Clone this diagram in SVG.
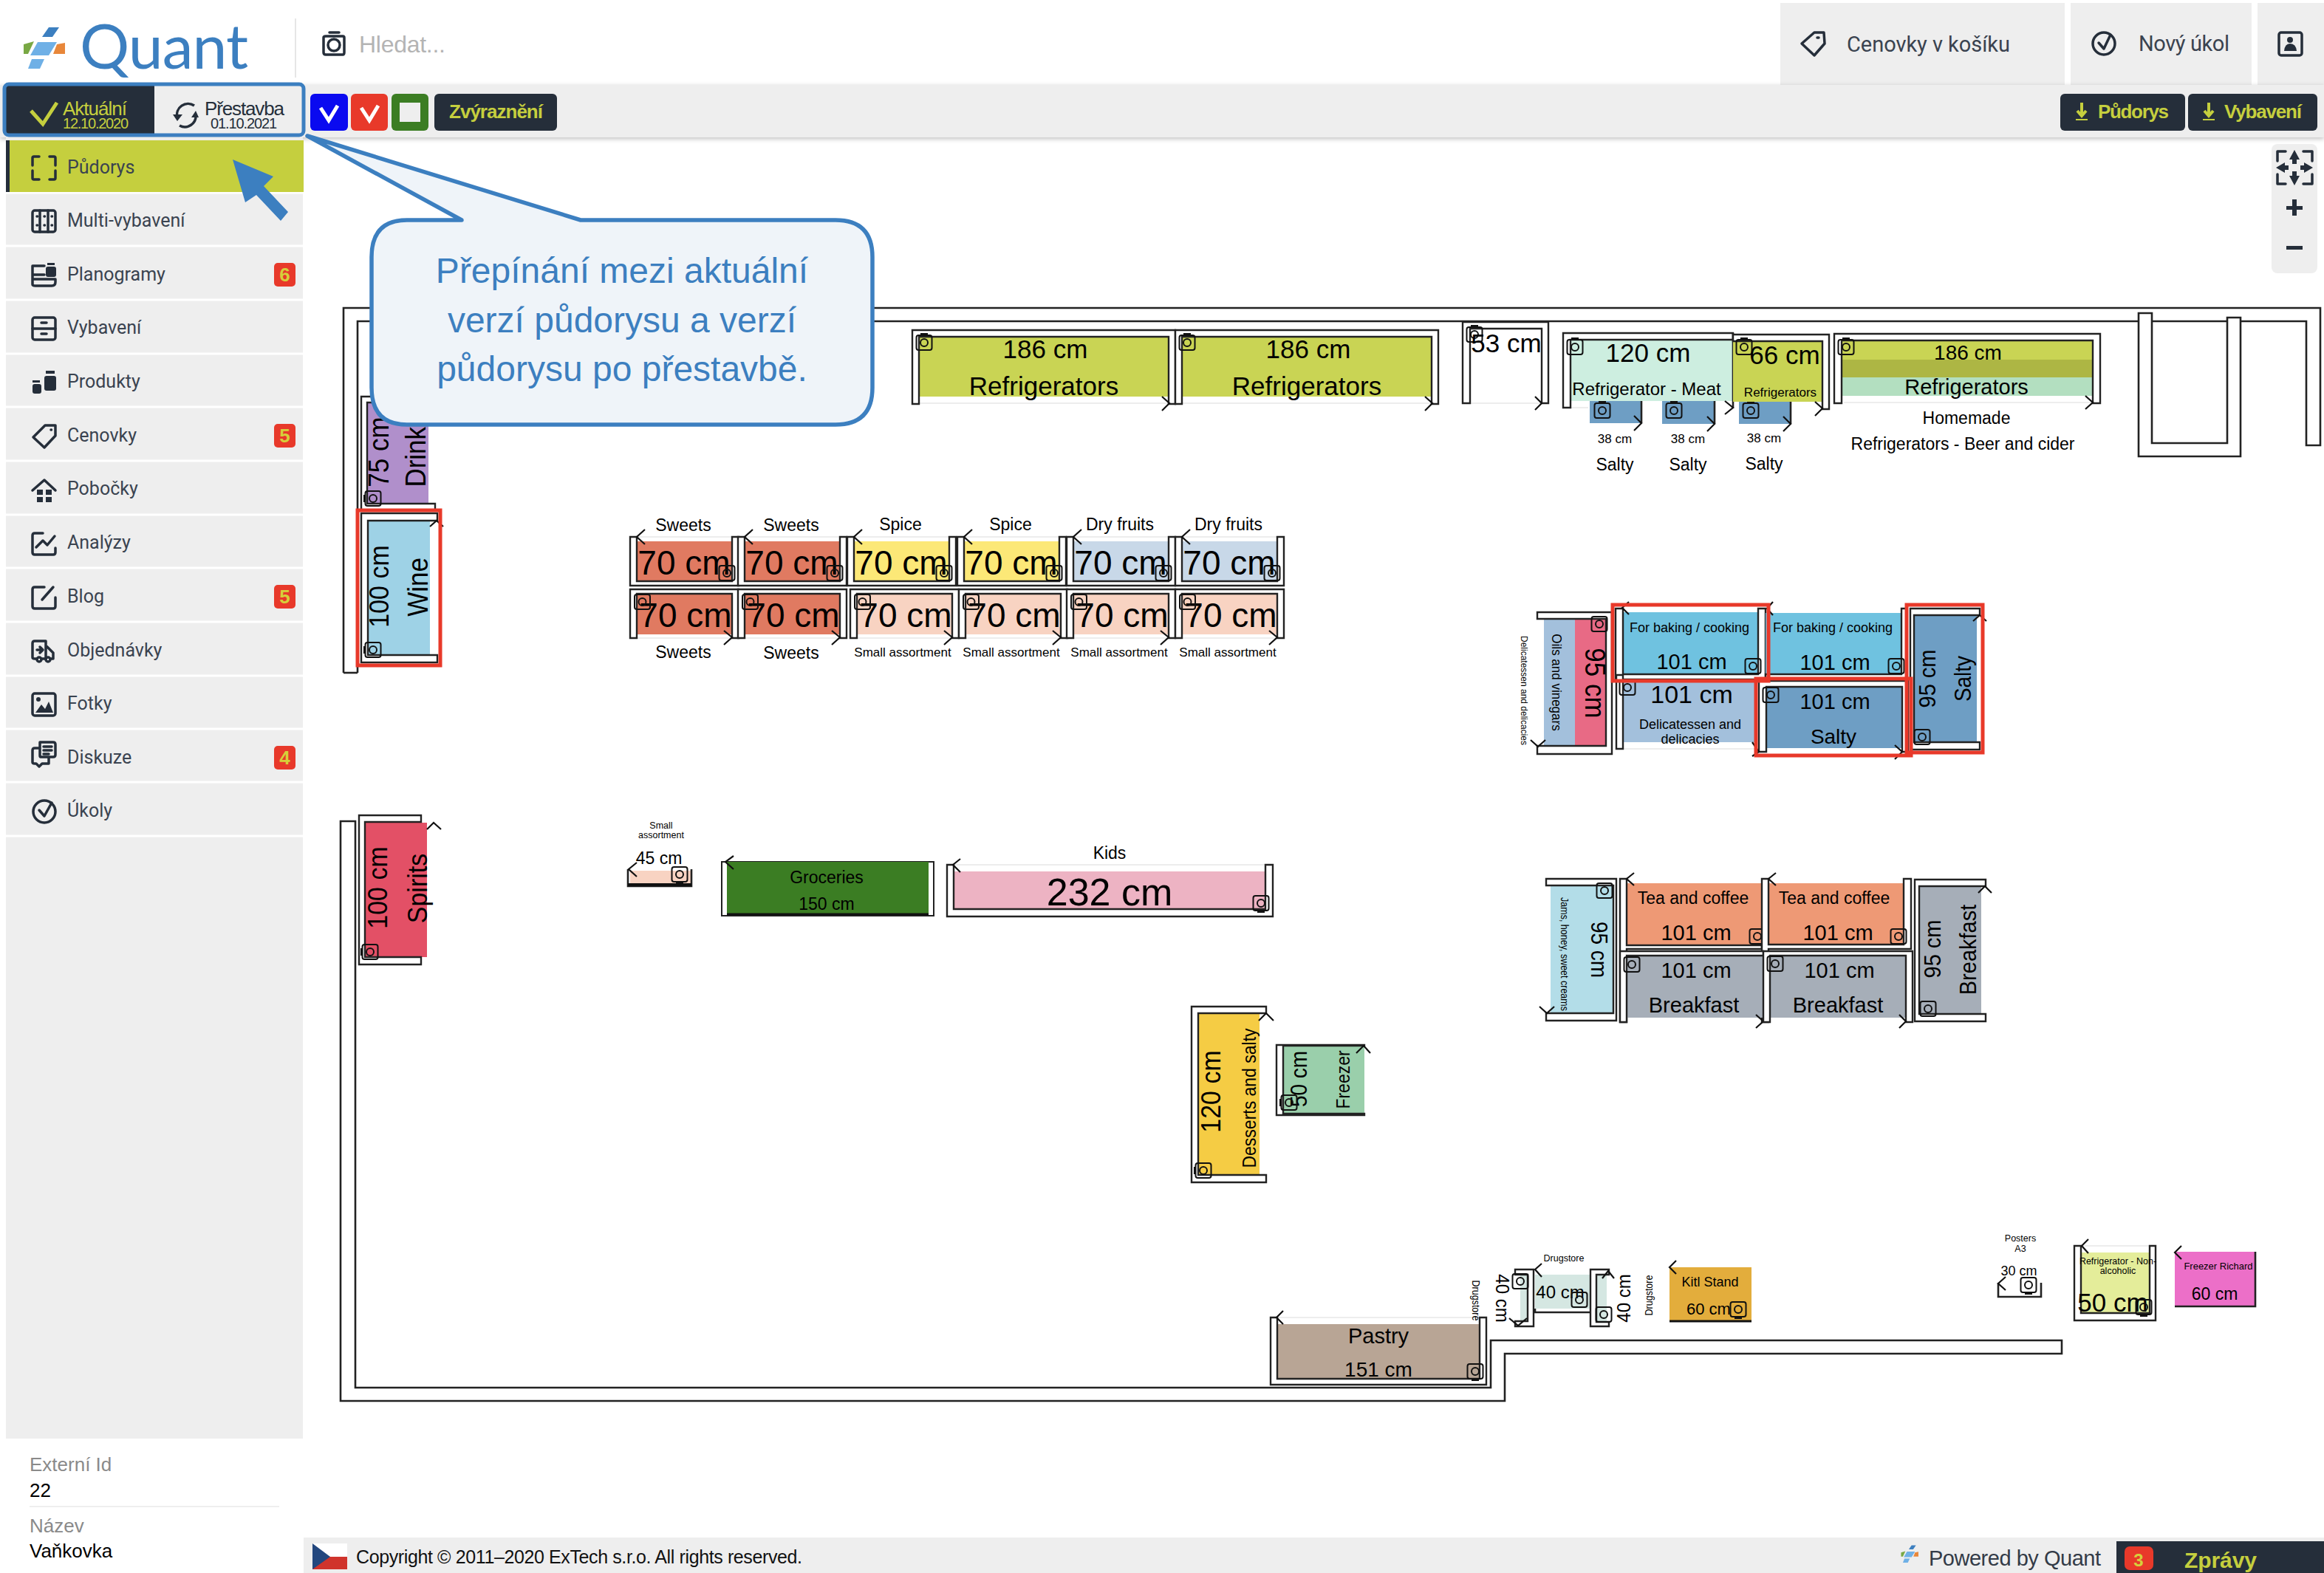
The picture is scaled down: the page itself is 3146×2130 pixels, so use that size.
<svg xmlns="http://www.w3.org/2000/svg" xmlns:xlink="http://www.w3.org/1999/xlink" width="3146" height="2130" viewBox="0 0 3146 2130">
<style>
text{font-family:"Liberation Sans",Arial,sans-serif;fill:#000}
#plan text:not([transform]){transform:translateY(2px)}
#sidebar g{transform:translateY(2px)}
#footer text,#info text{transform:translateY(2px)}
.m{text-anchor:middle}
.ui{font-family:Roboto,"Liberation Sans",sans-serif;fill:#3a4350;font-size:25px}
.f{fill:#fff;stroke:#222;stroke-width:2.4}
.w{fill:none;stroke:#222;stroke-width:2.6}
.c{fill:none;stroke:#111;stroke-width:2.2}
.hl{fill:none;stroke:#e8392a;stroke-width:5}
.ic{fill:none;stroke:#252e3a;stroke-width:3.5;stroke-linecap:round;stroke-linejoin:round}
.if{fill:#252e3a;stroke:none}
.btn{fill:#252e3a}
.ol{fill:#c5cf3e;font-weight:700}
.bd{fill:#e8392a}
.bt{fill:#d6cf3a;font-weight:700;font-size:26px;text-anchor:middle}
.g{fill:#eeeeee}
.s12{font-size:12.5px}.s17{font-size:17px}.s18{font-size:18px}.s23{font-size:23px}.s24{font-size:24px}.s29{font-size:29px}.s34{font-size:34px}.s35{font-size:35px}.s46{font-size:46px}
.ref{fill:#c9d454}.blu{fill:#6e9ec4}.lbl{fill:#a3c0dc}.sky{fill:#6fc2e0}.tea{fill:#ee9975}.gry{fill:#a6aeb8}.swt{fill:#e07a61}.yel{fill:#fce877}.dry{fill:#c8d8e8}.pch{fill:#f8d3c2}
.open{fill:none;stroke:#e8e8e8;stroke-width:1.5}
</style>
<defs>
<g id="cam"><rect x="-10.5" y="-10" width="21" height="20" rx="3" fill="none" stroke="#111" stroke-width="2"/><circle r="5" fill="none" stroke="#111" stroke-width="2"/></g>
<g id="camT"><use href="#cam"/><rect x="-5" y="-13" width="10" height="2.500" fill="#111"/></g>
<g id="camB"><use href="#cam"/><rect x="-5" y="10.500" width="10" height="2.500" fill="#111"/></g>
<g id="camL"><use href="#cam"/><rect x="-13" y="-5" width="2.500" height="10" fill="#111"/></g>
<g id="logo"><path fill="#3c7fc0" d="M66 37H80L71 50H57Z"/><path fill="#6fb0e6" d="M51 57H77L66 75H41Z"/><path fill="#e8873a" d="M77 60L88 58V73H72Z"/><path fill="#79a844" d="M32 60L46 56L38 73H32Z"/><path fill="#6fb0e6" d="M43 80H60L54 93H38Z"/></g>
<path id="uframe" class="f" d="M0 727V793H147V727H138V787H9V727Z"/>
<path id="lframe" class="f" d="M0 864V798H147V864H138V804H9V864Z"/>
<filter id="sh" x="-1%" y="-20%" width="102%" height="140%"><feDropShadow dx="0" dy="2" stdDeviation="3" flood-color="#000" flood-opacity=".25"/></filter>
</defs>
<rect id="page" width="3146" height="2130" fill="#fff"/>

<g id="plan">
<g id="walls">
<path class="w" d="M465 911V417H3141V603H3122V435H3033"/>
<path class="w" d="M484 911V435H2895"/>
<path class="w" d="M465 911H484"/>
<path class="w" d="M2895 435V424H2913V600H3015V430H3033V618H2895V435"/>
<path class="w" d="M2913 435H3015"/>
<path class="w" d="M461 1112H481V1879H2018V1815H2791V1833H2037V1897H461Z"/>
</g>

<path id="open-sides" class="open" d="M1244 546H1582M1600 546H1938M1991 546H2088M2496 545H2836M2127 552H2150M1729 1784H2003M2817 1687H2910M1291 1171H1713M2197 1014H2378M862 727H991M1008 727H1137M1156 727H1285M1305 727H1434M1453 727H1582M1600 727H1729M862 864H991M1008 864H1137M1160 864H1289M1307 864H1436M1453 864H1582M1600 864H1729"/>

<g id="n-drinks"><rect x="497" y="545" width="83" height="137" fill="#b08fcb"/><path class="f" d="M489 691V537H580V545H497V682H589V691Z"/><text class="s35 m" transform="translate(526,612) rotate(-90) scale(1,1.1)">75 cm</text><text class="s35 m" transform="translate(576,610) rotate(-90) scale(1,1.1)">Drinks</text><use href="#camL" x="505" y="675"/></g>
<g id="n-wine"><rect x="498" y="705" width="84" height="182" fill="#9ed2e6"/><path class="f" d="M489 897V695H592V705H498V887H592V897Z"/><text class="s34 m" transform="translate(526,794) rotate(-90) scale(1,1.1)">100 cm</text><text class="s35 m" transform="translate(579,795) rotate(-90) scale(1,1.1)">Wine</text><use href="#camL" x="505" y="880"/><path class="c" d="M582 713L591 705L600 713"/><rect class="hl" x="484" y="691" width="112" height="210"/></g>
<g id="n-ref1"><rect class="ref" x="1244" y="456" width="338" height="81"/><path class="f" d="M1235 547V447H1591V547H1582V456H1244V547Z"/><use href="#camT" x="1251" y="464"/><path class="c" d="M1573 537L1583 546L1573 556"/><text class="s35 m" x="1415" y="483">186 cm</text><text class="s35 m" x="1413" y="533">Refrigerators</text></g>
<g id="n-ref2"><rect class="ref" x="1600" y="456" width="338" height="81"/><path class="f" d="M1591 547V447H1947V547H1938V456H1600V547Z"/><use href="#camT" x="1607" y="464"/><path class="c" d="M1929 537L1939 546L1929 556"/><text class="s35 m" x="1771" y="483">186 cm</text><text class="s35 m" x="1769" y="533">Refrigerators</text></g>
<g id="n-53" transform="translate(-1,0)"><path class="f" d="M1981 546V436H2097V546H2088V445H1991V546Z"/><use href="#camT" x="1997" y="453"/><path class="c" d="M2079 537L2088 546L2079 555"/><text class="s35 m" x="2040" y="475">53 cm</text></g>
<g id="n-salty1" transform="translate(-2,0)"><rect class="blu" x="2154" y="543" width="70" height="30"/><path class="w" d="M2224 543V573"/><use href="#camT" x="2171" y="556"/><path class="c" d="M2214 563L2224 573L2214 583"/><text class="s17 m" x="2188" y="598">38 cm</text><text class="s23 m" x="2188" y="635">Salty</text></g>
<g id="n-salty2" transform="translate(-2,0)"><rect class="blu" x="2252" y="543" width="71" height="31"/><path class="w" d="M2323 543V574"/><use href="#camT" x="2268" y="556"/><path class="c" d="M2313 564L2323 574L2313 584"/><text class="s17 m" x="2287" y="598">38 cm</text><text class="s23 m" x="2287" y="635">Salty</text></g>
<g id="n-salty3" transform="translate(-2,0)"><rect class="blu" x="2356" y="544" width="70" height="30"/><path class="w" d="M2426 544V574"/><use href="#camT" x="2372" y="556"/><path class="c" d="M2416 564L2426 574L2416 584"/><text class="s17 m" x="2390" y="597">38 cm</text><text class="s23 m" x="2390" y="634">Salty</text></g>
<g id="n-meat" transform="translate(-1,0)"><rect x="2127" y="460" width="220" height="83" fill="#cdeee0"/><path class="f" d="M2117 552V451H2347V460H2127V552Z"/><path class="w" d="M2347 451V553"/><use href="#camT" x="2133" y="470"/><path class="c" d="M2336 543L2347 552L2336 561"/><text class="s35 m" x="2232" y="488">120 cm</text><text class="s24 m" x="2230" y="533">Refrigerator - Meat</text></g>
<g id="n-66" transform="translate(-1,0)"><rect class="ref" x="2347" y="462" width="121" height="82"/><path class="f" d="M2347 462V453H2477V554H2468V462Z"/><use href="#camT" x="2362" y="470"/><path class="c" d="M2458 544L2468 553L2458 563"/><text class="s35 m" x="2417" y="491">66 cm</text><text class="s17 m" x="2411" y="535">Refrigerators</text></g>
<g id="n-home" transform="translate(-3,0)"><rect x="2496" y="461" width="340" height="26" fill="#c9d454"/><rect x="2496" y="487" width="340" height="24" fill="#adb644"/><rect x="2496" y="511" width="340" height="25" fill="#b3dfc0"/><path class="f" d="M2486 546V452H2846V546H2836V461H2496V546Z"/><use href="#camT" x="2502" y="470"/><path class="c" d="M2826 536L2836 545L2826 554"/><text class="m" font-size="28" x="2667" y="485">186 cm</text><text class="s29 m" x="2665" y="532">Refrigerators</text><text class="s23 m" x="2665" y="572">Homemade</text><text class="s23 m" x="2660" y="607">Refrigerators - Beer and cider</text></g>

<g id="n-sw1" transform="translate(853,0)"><rect class="swt" x="9" y="733" width="129" height="54"/><use href="#uframe"/><text class="s46 m" x="73" y="776">70 cm</text><use href="#cam" x="131" y="776"/><path class="c" d="M20 717L9 727L20 737"/><text class="s23 m" x="72" y="717">Sweets</text></g>
<g id="n-sw2" transform="translate(999,0)"><rect class="swt" x="9" y="733" width="129" height="54"/><use href="#uframe"/><text class="s46 m" x="73" y="776">70 cm</text><use href="#cam" x="131" y="776"/><path class="c" d="M20 717L9 727L20 737"/><text class="s23 m" x="72" y="717">Sweets</text></g>
<g id="n-sp1" transform="translate(1147,0)"><rect class="yel" x="9" y="733" width="129" height="54"/><use href="#uframe"/><text class="s46 m" x="73" y="776">70 cm</text><use href="#cam" x="131" y="776"/><path class="c" d="M20 717L9 727L20 737"/><text class="s23 m" x="72" y="716">Spice</text></g>
<g id="n-sp2" transform="translate(1296,0)"><rect class="yel" x="9" y="733" width="129" height="54"/><use href="#uframe"/><text class="s46 m" x="73" y="776">70 cm</text><use href="#cam" x="131" y="776"/><path class="c" d="M20 717L9 727L20 737"/><text class="s23 m" x="72" y="716">Spice</text></g>
<g id="n-dr1" transform="translate(1444,0)"><rect class="dry" x="9" y="733" width="129" height="54"/><use href="#uframe"/><text class="s46 m" x="73" y="776">70 cm</text><use href="#cam" x="131" y="776"/><path class="c" d="M20 717L9 727L20 737"/><text class="s23 m" x="72" y="716">Dry fruits</text></g>
<g id="n-dr2" transform="translate(1591,0)"><rect class="dry" x="9" y="733" width="129" height="54"/><use href="#uframe"/><text class="s46 m" x="73" y="776">70 cm</text><use href="#cam" x="131" y="776"/><path class="c" d="M20 717L9 727L20 737"/><text class="s23 m" x="72" y="716">Dry fruits</text></g>

<g id="n-ls1" transform="translate(853,0)"><rect class="swt" x="9" y="804" width="129" height="55"/><use href="#lframe"/><text class="s46 m" x="75" y="847">70 cm</text><use href="#cam" x="16.500" y="815"/><path class="c" d="M127 854L138 863L127 873"/><text class="s23 m" x="72" y="889">Sweets</text></g>
<g id="n-ls2" transform="translate(999,0)"><rect class="swt" x="9" y="804" width="129" height="55"/><use href="#lframe"/><text class="s46 m" x="75" y="847">70 cm</text><use href="#cam" x="16.500" y="815"/><path class="c" d="M127 854L138 863L127 873"/><text class="s23 m" x="72" y="890">Sweets</text></g>
<g id="n-ls3" transform="translate(1151,0)"><rect class="pch" x="9" y="804" width="129" height="55"/><use href="#lframe"/><text class="s46 m" x="75" y="847">70 cm</text><use href="#cam" x="16.500" y="815"/><path class="c" d="M127 854L138 863L127 873"/><text class="s17 m" x="71" y="887">Small assortment</text></g>
<g id="n-ls4" transform="translate(1298,0)"><rect class="pch" x="9" y="804" width="129" height="55"/><use href="#lframe"/><text class="s46 m" x="75" y="847">70 cm</text><use href="#cam" x="16.500" y="815"/><path class="c" d="M127 854L138 863L127 873"/><text class="s17 m" x="71" y="887">Small assortment</text></g>
<g id="n-ls5" transform="translate(1444,0)"><rect class="pch" x="9" y="804" width="129" height="55"/><use href="#lframe"/><text class="s46 m" x="75" y="847">70 cm</text><use href="#cam" x="16.500" y="815"/><path class="c" d="M127 854L138 863L127 873"/><text class="s17 m" x="71" y="887">Small assortment</text></g>
<g id="n-ls6" transform="translate(1591,0)"><rect class="pch" x="9" y="804" width="129" height="55"/><use href="#lframe"/><text class="s46 m" x="75" y="847">70 cm</text><use href="#cam" x="16.500" y="815"/><path class="c" d="M127 854L138 863L127 873"/><text class="s17 m" x="71" y="887">Small assortment</text></g>

<g id="n-oils"><rect class="lbl" x="2090" y="838" width="42" height="172"/><rect x="2132" y="838" width="41" height="172" fill="#e86a85"/><path class="f" d="M2081 838V829H2182V1021H2081V1010H2174V838Z"/><text class="s35 m" transform="translate(2146,925) rotate(90) scale(1,1.1)">95 cm</text><text class="s17 m" transform="translate(2101,924) rotate(90) scale(1,1.1)">Oils and vinegars</text><text font-size="12" class="m" transform="translate(2059,935) rotate(90) scale(1,1.1)">Delicatessen and delicacies</text><use href="#cam" x="2165" y="845"/><path class="c" d="M2072 1002L2082 1011L2092 1002"/></g>
<g id="n-bake1"><rect class="sky" x="2197" y="829" width="184" height="84"/><path class="f" d="M2187 920V824H2197V913H2380V824H2390V920Z"/><text class="s18 m" x="2287" y="854">For baking / cooking</text><text class="s29 m" x="2290" y="904">101 cm</text><use href="#cam" x="2373" y="902"/><path class="c" d="M2205 815L2196 823L2205 832"/></g>
<g id="n-bake2"><rect class="sky" x="2390" y="830" width="184" height="83"/><path class="f" d="M2390 921V913H2574V824H2581V921Z"/><text class="s18 m" x="2481" y="854">For baking / cooking</text><text class="s29 m" x="2484" y="905">101 cm</text><use href="#cam" x="2567" y="902"/><path class="c" d="M2400 815L2392 824L2400 833"/></g>
<g id="n-deli"><rect class="lbl" x="2197" y="922" width="181" height="83"/><path class="f" d="M2188 1014V914H2197V1014Z"/><text class="s34 m" x="2290" y="950">101 cm</text><text class="s18 m" x="2288" y="985">Delicatessen and</text><text class="s18 m" x="2288" y="1005">delicacies</text><use href="#cam" x="2203" y="931"/></g>
<g id="n-salty4"><rect class="blu" x="2391" y="930" width="184" height="83"/><path class="f" d="M2381 1018V922H2583V1018H2575V930H2391V1018Z"/><text class="s29 m" x="2484" y="958">101 cm</text><text class="m" font-size="28" x="2482" y="1005">Salty</text><use href="#cam" x="2397" y="941"/><path class="c" d="M2565 1009L2575 1018L2565 1028M2372 1005L2381 1018L2372 1024"/></g>
<g id="n-salty5"><rect class="blu" x="2591" y="833" width="85" height="172"/><path class="f" d="M2680 833V824H2586V1015H2680V1005H2591V833Z"/><text class="m" font-size="29" transform="translate(2620,919) rotate(-90) scale(1,1.1)">95 cm</text><text class="m" font-size="28" transform="translate(2668,919) rotate(-90) scale(1,1.1)">Salty</text><use href="#cam" x="2602" y="998"/><path class="c" d="M2671 841L2680 833L2689 841"/></g>
<rect class="hl" x="2183" y="819" width="211" height="103"/><rect class="hl" x="2581" y="819" width="103" height="200"/><rect class="hl" x="2377" y="919" width="210" height="104"/>

<g id="n-jams"><rect x="2099" y="1199" width="85" height="173" fill="#b3dde8"/><path class="f" d="M2093 1199V1190H2188V1382H2093V1372H2184V1199Z"/><text class="m" font-size="28" transform="translate(2154,1286) rotate(90) scale(1,1.1)">95 cm</text><text class="s12 m" transform="translate(2113,1292) rotate(90) scale(1,1.1)">Jams, honey, sweet creams</text><use href="#cam" x="2172" y="1206"/><path class="c" d="M2084 1363L2094 1372L2104 1363"/></g>
<g id="n-tea1"><rect class="tea" x="2202" y="1196" width="183" height="84"/><path class="f" d="M2193 1384V1190H2202V1280H2385V1285H2202V1384Z"/><text class="s23 m" x="2292" y="1222">Tea and coffee</text><text class="s29 m" x="2296" y="1271">101 cm</text><use href="#cam" x="2379" y="1268"/><path class="c" d="M2212 1182L2202 1190L2212 1199"/></g>
<g id="n-tea2"><rect class="tea" x="2394" y="1196" width="183" height="83"/><path class="f" d="M2385 1384V1190H2394V1279H2577V1190H2587V1285H2394V1384Z"/><text class="s23 m" x="2483" y="1222">Tea and coffee</text><text class="s29 m" x="2488" y="1271">101 cm</text><use href="#cam" x="2570" y="1268"/><path class="c" d="M2404 1182L2394 1190L2404 1199"/></g>
<g id="n-bf1"><rect class="gry" x="2202" y="1294" width="185" height="84"/><path class="f" d="M2193 1384V1288H2387V1294H2202V1384Z"/><text class="s29 m" x="2296" y="1322">101 cm</text><text class="s29 m" x="2293" y="1369">Breakfast</text><use href="#cam" x="2209" y="1306"/><path class="c" d="M2377 1374L2387 1383L2377 1392"/></g>
<g id="n-bf2"><rect class="gry" x="2396" y="1294" width="184" height="84"/><path class="f" d="M2387 1384V1288H2589V1384H2580V1294H2396V1384Z"/><text class="s29 m" x="2490" y="1322">101 cm</text><text class="s29 m" x="2488" y="1369">Breakfast</text><use href="#cam" x="2403" y="1305"/><path class="c" d="M2571 1374L2580 1383L2571 1392"/></g>
<g id="n-bf3"><rect class="gry" x="2598" y="1200" width="84" height="173"/><path class="f" d="M2688 1200V1191H2592V1383H2688V1373H2598V1200Z"/><text class="m" font-size="29" transform="translate(2627,1285) rotate(-90) scale(1,1.1)">95 cm</text><text class="s29 m" transform="translate(2675,1286) rotate(-90) scale(1,1.1)">Breakfast</text><use href="#cam" x="2610" y="1366"/><path class="c" d="M2678 1209L2687 1200L2696 1209"/></g>

<g id="n-spirits"><rect x="495" y="1114" width="83" height="182" fill="#e35066"/><path class="f" d="M570 1113V1104H486V1306H570V1296H494V1113Z"/><text class="s34 m" transform="translate(524,1202) rotate(-90) scale(1,1.1)">100 cm</text><text class="s34 m" transform="translate(578,1203) rotate(-90) scale(1,1.1)">Spirits</text><use href="#camL" x="501" y="1289"/><path class="c" d="M578 1123L587 1114L597 1123"/></g>
<g id="n-45"><rect class="pch" x="853" y="1179" width="83" height="18"/><path class="w" d="M850 1177V1200H936V1177"/><path d="M850 1198H936" stroke="#111" stroke-width="4"/><use href="#camB" x="920" y="1184"/><path class="c" d="M862 1168L851 1177L862 1187"/><text class="s23 m" x="892" y="1168">45 cm</text><text class="s12 m" x="895" y="1120">Small</text><text class="s12 m" x="895" y="1133">assortment</text></g>
<g id="n-groc"><rect x="977" y="1167" width="287" height="73" fill="#fff" stroke="#222" stroke-width="2"/><rect x="984" y="1167" width="273" height="71" fill="#3b7d23"/><path d="M984 1238H1257" stroke="#111" stroke-width="3"/><path class="c" d="M993 1159L982 1167L993 1177"/><text class="s23 m" x="1119" y="1194">Groceries</text><text class="s23 m" x="1119" y="1230">150 cm</text></g>
<g id="n-kids"><rect x="1291" y="1180" width="422" height="51" fill="#edb3c3"/><path class="f" d="M1282 1171V1241H1723V1171H1713V1231H1291V1171Z"/><text class="m" font-size="52" x="1502" y="1224">232 cm</text><text class="s23 m" x="1502" y="1161">Kids</text><use href="#camB" x="1707" y="1223"/><path class="c" d="M1300 1163L1290 1171L1300 1181"/></g>
<g id="n-dess"><rect x="1622" y="1372" width="83" height="219" fill="#f5cc44"/><path class="f" d="M1714 1372V1363H1613V1601H1714V1591H1622V1372Z"/><text class="s34 m" transform="translate(1652,1478) rotate(-90) scale(1,1.1)">120 cm</text><text class="s23 m" transform="translate(1700,1487) rotate(-90) scale(1,1.1)">Desserts and salty</text><use href="#camL" x="1629" y="1585"/><path class="c" d="M1704 1382L1714 1372L1724 1382"/></g>
<g id="n-frz"><rect x="1737" y="1416" width="110" height="93" fill="#9acfab"/><path class="f" d="M1847 1415H1728V1510H1847V1508H1737V1416H1847Z"/><text class="m" font-size="28" transform="translate(1769,1461) rotate(-90) scale(1,1.1)">50 cm</text><text class="s23 m" transform="translate(1827,1462) rotate(-90) scale(1,1.1)">Freezer</text><use href="#camL" x="1745" y="1493"/><path class="c" d="M1836 1426L1846 1416L1855 1426"/></g>
<g id="n-pastry"><rect x="1729" y="1793" width="274" height="73" fill="#b8a595"/><path class="f" d="M1720 1784V1875H2012V1784H2003V1867H1729V1784Z"/><text class="s29 m" x="1866" y="1817">Pastry</text><text class="m" font-size="28" x="1866" y="1862">151 cm</text><use href="#camB" x="1997" y="1857"/><path class="c" d="M1737 1775L1728 1784L1737 1793"/><text class="s12 m" transform="translate(1993,1761) rotate(90) scale(1,1.1)">Drugstore</text></g>
<g id="n-dg1"><rect x="2058" y="1726" width="18" height="63" fill="#d5e7e2"/><path class="f" d="M2051 1719H2076V1796H2051V1789H2068V1726H2051Z"/><text class="s24 m" transform="translate(2025,1758) rotate(90) scale(1,1.1)">40 cm</text><use href="#cam" x="2058" y="1735"/><path class="c" d="M2043 1785L2055 1795L2067 1785"/></g>
<g id="n-dg2"><rect x="2078" y="1726" width="77" height="46" fill="#d5e7e2"/><path class="w" d="M2078 1772V1777H2153"/><text class="s24 m" x="2112" y="1756">40 cm</text><use href="#cam" x="2138" y="1760"/><path class="c" d="M2087 1711L2078 1719L2087 1729"/><text class="s12 m" x="2117" y="1706">Drugstore</text></g>
<g id="n-dg3"><rect x="2161" y="1726" width="14" height="64" fill="#d5e7e2"/><path class="f" d="M2178 1726V1719H2153V1796H2178V1790H2161V1726Z"/><text class="s24 m" transform="translate(2207,1758) rotate(-90) scale(1,1.1)">40 cm</text><use href="#cam" x="2171" y="1780"/><path class="c" d="M2169 1731L2177 1721L2185 1731"/><text class="s12 m" transform="translate(2237,1754) rotate(-90) scale(1,1.1)">Drugstore</text></g>
<g id="n-kitl"><rect x="2260" y="1716" width="111" height="73" fill="#e3ad3c"/><path d="M2260 1789H2371" stroke="#111" stroke-width="3"/><text class="s18 m" x="2315" y="1740">Kitl Stand</text><text class="m" font-size="22" x="2313" y="1778">60 cm</text><use href="#camB" x="2353" y="1773"/><path class="c" d="M2269 1707L2260 1716L2269 1725"/></g>
<g id="n-post"><path class="w" d="M2705 1737V1756H2763V1737"/><use href="#camB" x="2746" y="1740"/><path class="c" d="M2715 1729L2705 1738L2715 1747"/><text class="s18 m" x="2733" y="1725">30 cm</text><text class="s12 m" x="2735" y="1679">Posters</text><text class="s12 m" x="2735" y="1693">A3</text></g>
<g id="n-nonalc"><rect x="2817" y="1696" width="93" height="82" fill="#e4ed9a"/><path class="f" d="M2808 1687V1788H2918V1687H2910V1778H2817V1687Z"/><text class="s12 m" x="2867" y="1710">Refrigerator - Non-</text><text class="s12 m" x="2867" y="1723">alcoholic</text><text class="s35 m" x="2860" y="1774">50 cm</text><use href="#camB" x="2902" y="1770"/><path class="c" d="M2827 1678L2818 1687L2827 1697"/></g>
<g id="n-rich"><rect x="2944" y="1695" width="109" height="74" fill="#ec6fc8"/><path class="w" d="M2944 1769H3053V1695"/><text class="m" font-size="13" x="3003" y="1717">Freezer Richard</text><text class="s23 m" x="2998" y="1758">60 cm</text><path class="c" d="M2953 1687L2944 1696L2953 1705"/></g>
</g>

<g id="map-controls"><rect class="g" x="3075" y="195" width="62" height="175" rx="8"/><path class="ic" d="M3083 218V205H3094M3118 205H3130V218M3083 236V249H3094M3118 249H3130V236"/><path class="if" d="M3106 203L3113 216H3109V222H3103V216H3099ZM3106 251L3113 238H3109V232H3103V238H3099ZM3081 227L3093 220V224H3098V230H3093V234ZM3131 227L3119 220V224H3114V230H3119V234Z"/><path class="if" d="M3103 270H3109V279H3117V284H3109V292H3103V284H3095V279H3103ZM3095 333H3117V338H3095Z"/></g>

<g id="topbar"><rect x="0" y="0" width="3146" height="115" fill="#fff"/><rect x="2410" y="4" width="385" height="111" class="g"/><rect x="2803" y="4" width="245" height="111" class="g"/><rect x="3056" y="4" width="90" height="111" class="g"/>
<rect x="0" y="115" width="3146" height="71" class="g" filter="url(#sh)"/>
<use href="#logo"/><text x="108" y="93" font-size="84" style="font-family:Lato,'Open Sans',sans-serif;fill:#3c7fc0" textLength="228">Quant</text>
<path d="M400 25V105" stroke="#e6e6e6" stroke-width="2"/>
<path class="ic" d="M441 49H464Q466 49 466 51V71Q466 74 464 74H441Q438 74 438 71V51Q438 49 441 49ZM446 44H459"/><circle class="ic" cx="452" cy="61" r="8"/>
<text x="486" y="71" font-size="32" style="fill:#b4b4b4" textLength="117">Hledat...</text>
<path class="ic" d="M2439 59L2456 44H2469L2470 59L2456 75ZM2460 51H2462"/><text class="ui" x="2500" y="70" style="font-size:29px" textLength="221">Cenovky v košíku</text>
<circle class="ic" cx="2848" cy="59" r="15"/><path class="ic" d="M2841 58L2848 66L2857 47"/><text class="ui" x="2895" y="69" style="font-size:29px" textLength="123">Nový úkol</text>
<rect class="ic" x="3085" y="44" width="31" height="31" rx="3"/><circle class="if" cx="3100" cy="54" r="4"/><path class="if" d="M3092 69Q3093 59 3100 59Q3108 59 3109 69Z"/></g>

<g id="toolbar">
<rect x="420" y="127" width="51" height="50" rx="6" fill="#0a0af0"/><path d="M434 146L445 163L457 143" fill="none" stroke="#fff" stroke-width="5"/>
<rect x="475" y="127" width="50" height="50" rx="6" fill="#e8392a"/><path d="M489 146L500 163L512 143" fill="none" stroke="#fff" stroke-width="5"/>
<rect x="530" y="127" width="50" height="50" rx="6" fill="#3b7d23"/><rect x="541" y="139" width="28" height="26" fill="#eee"/>
<rect class="btn" x="588" y="127" width="166" height="50" rx="6"/><text class="ol" x="608" y="160" font-size="26" textLength="127">Zvýraznění</text>
<rect class="btn" x="2789" y="127" width="169" height="50" rx="6"/><path d="M2818 139V154M2812 150L2818 157L2824 150" fill="none" stroke="#c5cf3e" stroke-width="4"/><path d="M2810 162H2826" stroke="#c5cf3e" stroke-width="2"/><text class="ol" x="2840" y="160" font-size="26" textLength="96">Půdorys</text>
<rect class="btn" x="2962" y="127" width="175" height="50" rx="6"/><path d="M2990 139V154M2984 150L2990 157L2996 150" fill="none" stroke="#c5cf3e" stroke-width="4"/><path d="M2982 162H2998" stroke="#c5cf3e" stroke-width="2"/><text class="ol" x="3011" y="160" font-size="26" textLength="105">Vybavení</text>
</g>

<g id="sidebar">
<rect x="8" y="186" width="402" height="1762" class="g"/>
<path d="M8 261H410M8 333H410M8 406H410M8 479H410M8 551H410M8 624H410M8 697H410M8 769H410M8 842H410M8 915H410M8 987H410M8 1059H410M8 1132H410" stroke="#fff" stroke-width="3"/>
<rect x="8" y="190" width="5" height="70" fill="#252e3a"/><rect x="13" y="190" width="398" height="70" fill="#c5cf3e"/>

<g id="m-pudorys"><path class="ic" d="M44 222V212Q44 210 46 210H53M67 210H73Q75 210 75 212V222M44 229V239Q44 241 46 241H53M67 241H73Q75 241 75 239V229"/><text class="ui" x="91" y="233">Půdorys</text></g>
<g id="m-multi"><rect class="ic" x="44" y="283" width="31" height="29" rx="3"/><path class="ic" d="M54 283V312M65 283V312M50 291H50.500M50 303H50.500M60 291H60.500M60 303H60.500M70 291H70.500M70 303H70.500"/><text class="ui" x="91" y="305">Multi-vybavení</text></g>
<g id="m-plano"><path class="ic" d="M44 383V358H60M44 370H60M44 376H75V380Q75 385 70 385H48Q44 385 44 383"/><rect class="if" x="62" y="359" width="14" height="14" rx="3"/><rect class="if" x="64" y="354" width="10" height="3"/><text class="ui" x="91" y="378">Planogramy</text><rect class="bd" x="371" y="354" width="29" height="32" rx="5"/><text class="bt" x="385.500" y="379">6</text></g>
<g id="m-vyb"><rect class="ic" x="44" y="428" width="31" height="30" rx="3"/><path class="ic" d="M44 443H75M56 435H63M56 450H63"/><text class="ui" x="91" y="450">Vybavení</text></g>
<g id="m-prod"><rect class="if" x="60" y="507" width="16" height="20" rx="3"/><rect class="if" x="62" y="500" width="12" height="4"/><rect class="if" x="44" y="518" width="12" height="13" rx="3"/><rect class="if" x="44" y="513" width="10" height="3"/><text class="ui" x="91" y="523">Produkty</text></g>
<g id="m-cen"><path class="ic" d="M45 590L61 574H75V588L60 604ZM69 580H69.500"/><text class="ui" x="91" y="596">Cenovky</text><rect class="bd" x="371" y="572" width="29" height="32" rx="5"/><text class="bt" x="385.500" y="597">5</text></g>
<g id="m-pob"><path class="ic" d="M44 662L60 648L75 662"/><path class="if" d="M50 661H58V668H50ZM62 661H70V668H62ZM50 671H58V678H50ZM62 671H70V678H62Z"/><text class="ui" x="91" y="668">Pobočky</text></g>
<g id="m-ana"><path class="ic" d="M58 720H47Q44 720 44 723V746Q44 749 47 749H72Q75 749 75 746V740M49 739L58 730L64 736L74 724"/><text class="ui" x="91" y="741">Analýzy</text></g>
<g id="m-blog"><path class="ic" d="M60 793H47Q44 793 44 796V819Q44 822 47 822H72Q75 822 75 819V807M57 810L72 793"/><text class="ui" x="91" y="814">Blog</text><rect class="bd" x="371" y="790" width="29" height="32" rx="5"/><text class="bt" x="385.500" y="815">5</text></g>
<g id="m-obj"><path class="ic" d="M62 866H47Q44 866 44 869V888Q44 890 47 890H50M62 866V890H56M62 872L72 882V890H68M50 878H58M54 874L58 878L54 882"/><circle class="ic" cx="53" cy="891" r="3"/><circle class="ic" cx="65" cy="891" r="3"/><text class="ui" x="91" y="887">Objednávky</text></g>
<g id="m-fot"><rect class="ic" x="44" y="937" width="31" height="30" rx="3"/><path class="if" d="M48 963L56 952L61 958L66 948L72 963Z"/><circle class="if" cx="52" cy="945" r="3"/><text class="ui" x="91" y="959">Fotky</text></g>
<g id="m-dis"><path class="ic" d="M54 1011V1003H72Q75 1003 75 1006V1020Q75 1023 72 1023H55Q54 1023 54 1021ZM54 1011H47Q44 1011 44 1014V1030Q44 1032 47 1032H49L53 1036L57 1032H66V1023M59 1009H70M59 1014H70M59 1019H66"/><text class="ui" x="91" y="1032">Diskuze</text><rect class="bd" x="371" y="1008" width="29" height="32" rx="5"/><text class="bt" x="385.500" y="1033">4</text></g>
<g id="m-uk"><circle class="ic" cx="60" cy="1097" r="15"/><path class="ic" d="M53 1095L60 1103L70 1085"/><text class="ui" x="91" y="1104">Úkoly</text></g>
</g>

<g id="version-switch">
<rect x="8" y="115" width="201" height="66" fill="#252e3a"/>
<rect x="209" y="115" width="202" height="66" fill="#eeeeee"/>
<path d="M42 150L58 168L77 139" fill="none" stroke="#c5cf3e" stroke-width="5"/>
<text x="85" y="156" font-size="26" style="fill:#c5cf3e" textLength="87">Aktuální</text>
<text x="85" y="174" font-size="20" style="fill:#c5cf3e" textLength="89">12.10.2020</text>
<path d="M240 159A15 15 0 0 1 263 143M265 155A15 15 0 0 1 243 170" fill="none" stroke="#252e3a" stroke-width="3.500"/><path class="if" d="M234 155L247 155L240 164ZM259 159L269 159L265 150Z"/>
<text x="277" y="156" font-size="26" style="fill:#252e3a" textLength="108">Přestavba</text>
<text x="285" y="174" font-size="20" style="fill:#252e3a" textLength="90">01.10.2021</text>
<rect x="6" y="114" width="405" height="69" rx="6" fill="none" stroke="#3c7fc0" stroke-width="5"/>
</g>

<g id="arrow"><path d="M315 216L370 239L357 252L390 287L380 299L347 264L332 274Z" fill="#3c7fc0"/></g>

<g id="callout"><path d="M551 298H625L416 184L786 298H1131Q1181 298 1181 348V525Q1181 575 1131 575H551Q503 575 503 525V348Q503 298 551 298Z" fill="#eff4f9" stroke="#3c7fc0" stroke-width="5.500" stroke-linejoin="round"/>
<g font-size="48" text-anchor="middle"><text x="842" y="383" style="fill:#3c7fc0">Přepínání mezi aktuální</text><text x="842" y="450" style="fill:#3c7fc0">verzí půdorysu a verzí</text><text x="842" y="516" style="fill:#3c7fc0">půdorysu po přestavbě.</text></g></g>

<g id="info"><text x="40" y="1990" font-size="26" style="fill:#8a8a8a">Externí Id</text><text x="40" y="2025" font-size="26">22</text><path d="M40 2040H378" stroke="#eeeeee" stroke-width="2"/><text x="40" y="2073" font-size="26" style="fill:#8a8a8a">Název</text><text x="40" y="2107" font-size="26">Vaňkovka</text></g>

<g id="footer"><rect x="411" y="2082" width="2735" height="48" class="g"/>
<rect x="423" y="2090" width="47" height="18" fill="#fff"/><rect x="423" y="2108" width="47" height="17" fill="#d0342c"/><path d="M423 2090L447 2108L423 2125Z" fill="#23477e"/>
<text x="482" y="2115" font-size="25" style="fill:#111" textLength="604">Copyright © 2011–2020 ExTech s.r.o. All rights reserved.</text>
<use href="#logo" transform="translate(2560,2077) scale(.42)"/>
<text x="2611" y="2118" font-size="29" style="fill:#333b47" textLength="233">Powered by Quant</text>
<rect x="2865" y="2087" width="281" height="43" fill="#252e3a"/><rect class="bd" x="2876" y="2094" width="39" height="32" rx="7"/><text class="bt" x="2895" y="2119" style="font-size:24px">3</text><text class="ol" x="2957" y="2121" font-size="30" textLength="98">Zprávy</text></g>
</svg>
